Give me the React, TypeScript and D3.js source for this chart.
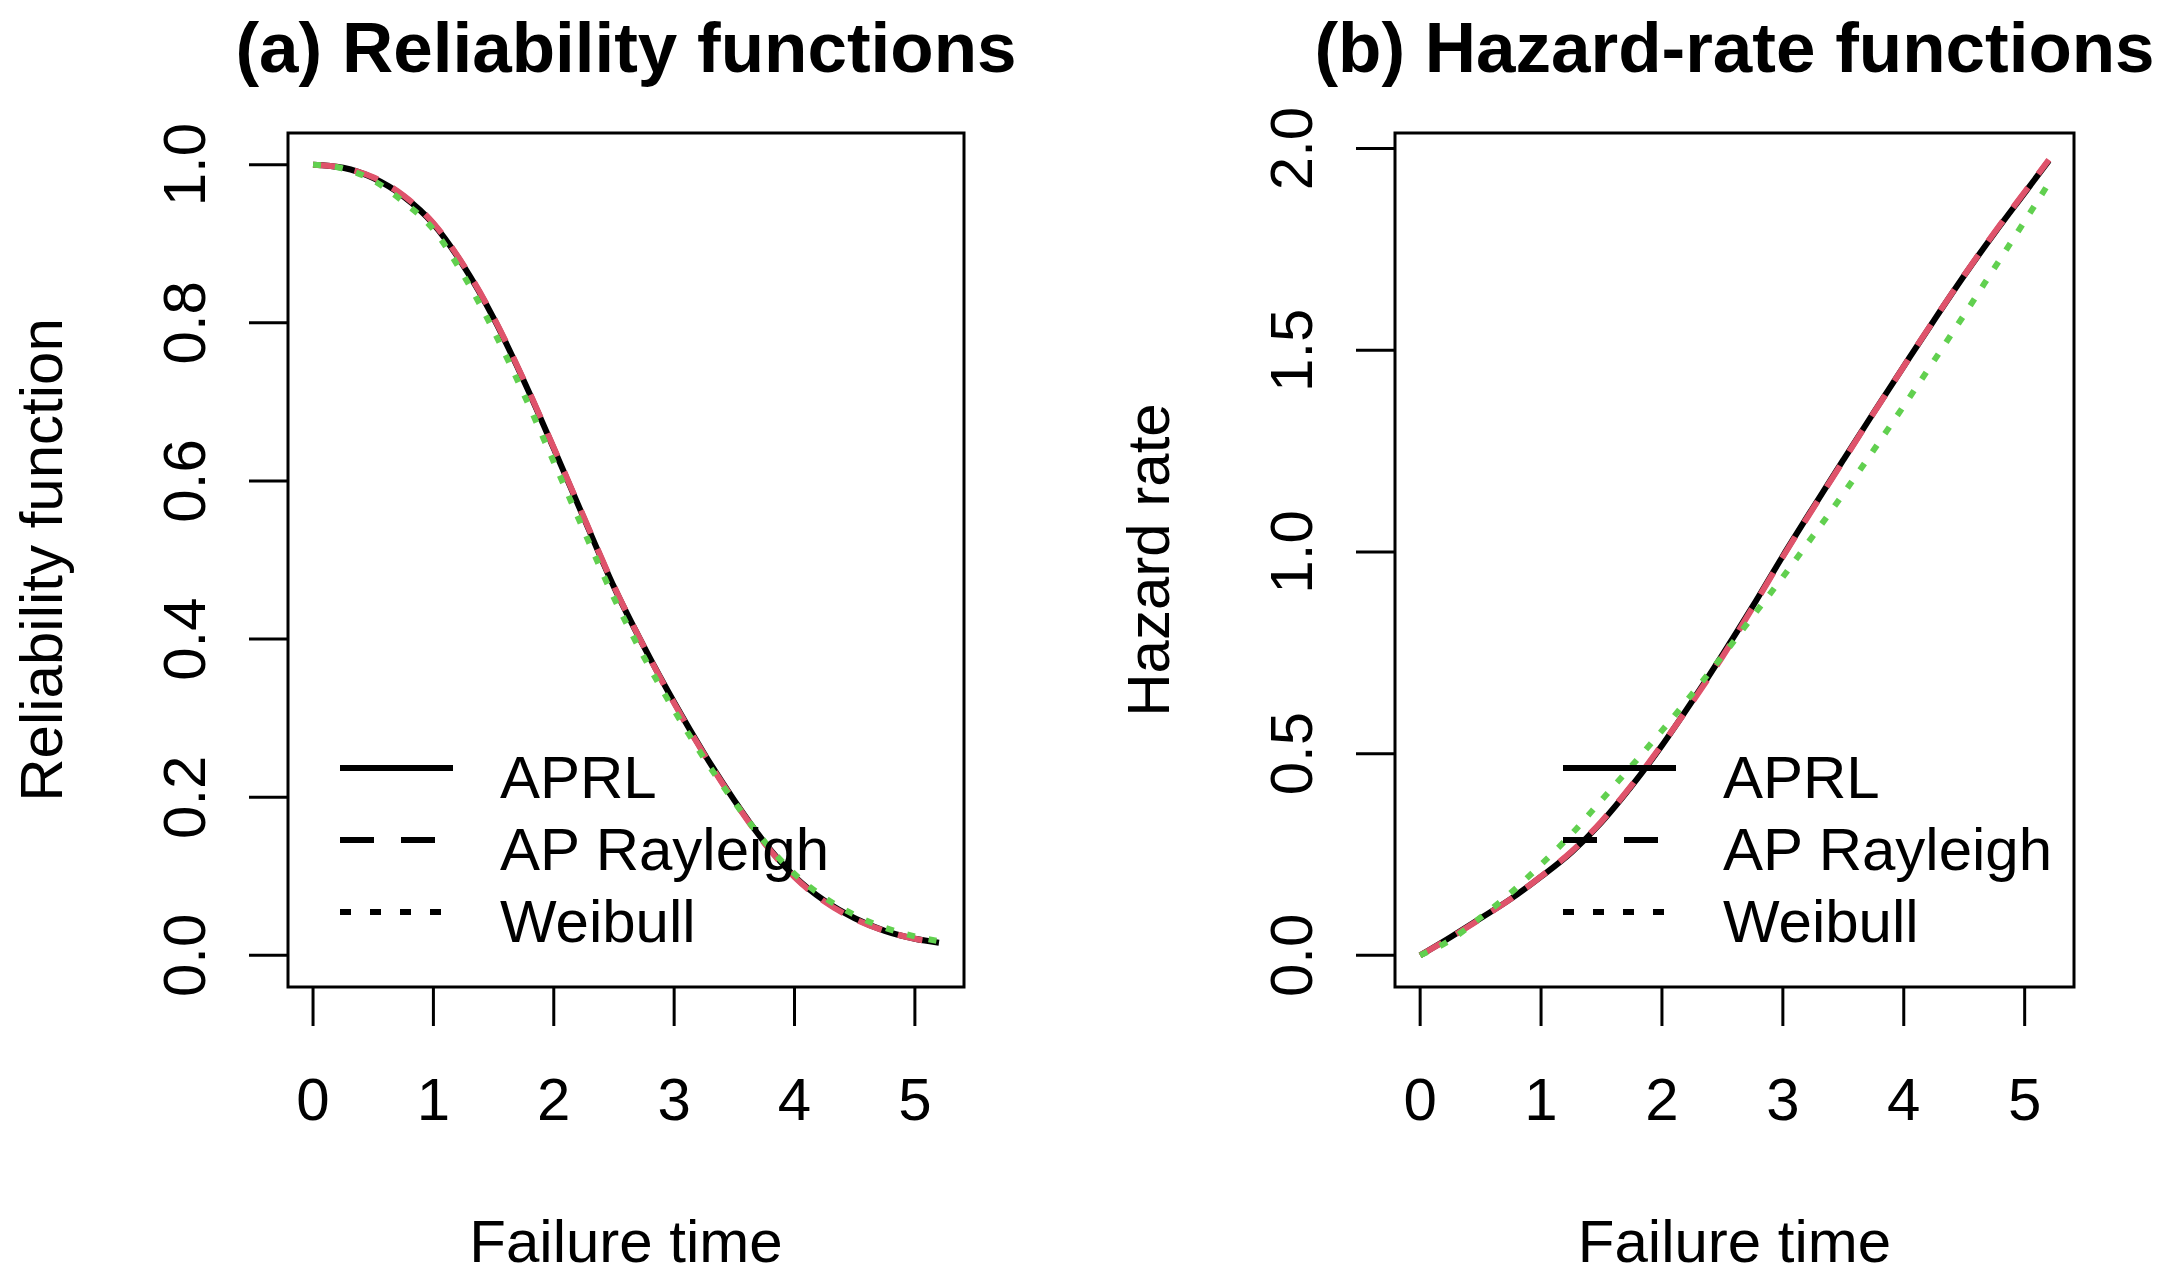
import { useEffect, useRef } from 'react';
import * as d3 from 'd3';

// Values
const failureTime = [0, 0.25, 0.5, 0.75, 1, 1.25, 1.5, 1.75, 2, 2.25, 2.5, 2.75, 3, 3.25, 3.5, 3.75, 4, 4.25, 4.5, 4.75, 5, 5.2];

const reliabilityAPRL = [1.0, 0.996, 0.983, 0.96, 0.925, 0.872, 0.806, 0.727, 0.641, 0.553, 0.466, 0.39, 0.32, 0.255, 0.196, 0.143, 0.1, 0.069, 0.047, 0.031, 0.021, 0.016];
const reliabilityAPRayleigh = [1.0, 0.996, 0.984, 0.961, 0.926, 0.873, 0.807, 0.728, 0.642, 0.554, 0.467, 0.39, 0.319, 0.254, 0.195, 0.142, 0.099, 0.068, 0.046, 0.031, 0.021, 0.016];
const reliabilityWeibull = [1.0, 0.995, 0.98, 0.953, 0.918, 0.86, 0.79, 0.71, 0.624, 0.537, 0.452, 0.377, 0.31, 0.249, 0.194, 0.144, 0.103, 0.073, 0.051, 0.035, 0.024, 0.018];

const hazardAPRL = [0.0, 0.045, 0.092, 0.14, 0.195, 0.255, 0.33, 0.42, 0.52, 0.63, 0.745, 0.865, 0.99, 1.11, 1.228, 1.345, 1.46, 1.574, 1.685, 1.79, 1.89, 1.97];
const hazardAPRayleigh = [0.0, 0.044, 0.091, 0.14, 0.196, 0.257, 0.332, 0.422, 0.522, 0.628, 0.74, 0.862, 0.988, 1.108, 1.226, 1.344, 1.46, 1.575, 1.686, 1.792, 1.892, 1.972];
const hazardWeibull = [0.0, 0.038, 0.094, 0.155, 0.225, 0.3, 0.385, 0.47, 0.557, 0.648, 0.742, 0.84, 0.938, 1.04, 1.144, 1.252, 1.362, 1.474, 1.588, 1.704, 1.82, 1.914];

const xTicks = [0, 1, 2, 3, 4, 5];
const reliabilityTicks = [0, 0.2, 0.4, 0.6, 0.8, 1.0];
const hazardTicks = [0, 0.5, 1.0, 1.5, 2.0];
const legendLabels = ['APRL', 'AP Rayleigh', 'Weibull'];

const FONT = "'Liberation Sans', Arial, sans-serif";
const RED = '#DF536B';
const GREEN = '#61D04F';

interface PanelSpec {
  title: string;
  yLabel: string;
  left: number;
  right: number;
  yMax: number;
  yTicks: number[];
  series: number[][];
  legendX: number;
}

const App = () => {
  const svgRef = useRef<SVGSVGElement | null>(null);

  useEffect(() => {
    const svg = d3.select(svgRef.current);
    svg.selectAll('*').remove();

    const width = 2166;
    const height = 1277;
    svg.attr('width', width).attr('height', height);

    const top = 133;
    const bottom = 987;

    const panels: PanelSpec[] = [
      {
        title: '(a) Reliability functions',
        yLabel: 'Reliability function',
        left: 288,
        right: 964,
        yMax: 1,
        yTicks: reliabilityTicks,
        series: [reliabilityAPRL, reliabilityAPRayleigh, reliabilityWeibull],
        legendX: 340,
      },
      {
        title: '(b) Hazard-rate functions',
        yLabel: 'Hazard rate',
        left: 1395,
        right: 2074,
        yMax: 1.96,
        yTicks: hazardTicks,
        series: [hazardAPRL, hazardAPRayleigh, hazardWeibull],
        legendX: 1563,
      },
    ];

    // stroke styles for APRL, AP Rayleigh, Weibull
    const curveStyles = [
      { color: 'black', dash: null as string | null },
      { color: RED, dash: '25 17' },
      { color: GREEN, dash: '8 14' },
    ];
    const legendDash = [null, '34 27', '11 19'];

    panels.forEach(p => {
      // R style: 4% padding on both axes
      const xPad = 5.2 * 0.04;
      const x = d3.scaleLinear()
        .domain([-xPad, 5.2 + xPad])
        .range([p.left, p.right]);

      const yPad = p.yMax * 0.04;
      const y = d3.scaleLinear()
        .domain([-yPad, p.yMax + yPad])
        .range([bottom, top]);

      const g = svg.append('g');

      // Curves
      const line = d3.line<number>()
        .x((_, i) => x(failureTime[i]))
        .y(d => y(d))
        .curve(d3.curveMonotoneX);

      p.series.forEach((values, i) => {
        const path = g.append('path')
          .datum(values)
          .attr('d', line)
          .attr('fill', 'none')
          .attr('stroke', curveStyles[i].color)
          .attr('stroke-width', 6);
        if (curveStyles[i].dash) path.attr('stroke-dasharray', curveStyles[i].dash);
      });

      // Box
      g.append('rect')
        .attr('x', p.left)
        .attr('y', top)
        .attr('width', p.right - p.left)
        .attr('height', bottom - top)
        .attr('fill', 'none')
        .attr('stroke', 'black')
        .attr('stroke-width', 3);

      // x axis ticks and labels
      g.selectAll('.xtick')
        .data(xTicks)
        .enter()
        .append('line')
        .attr('x1', d => x(d))
        .attr('x2', d => x(d))
        .attr('y1', bottom)
        .attr('y2', bottom + 39)
        .attr('stroke', 'black')
        .attr('stroke-width', 3);

      g.selectAll('.xlabel')
        .data(xTicks)
        .enter()
        .append('text')
        .attr('x', d => x(d))
        .attr('y', 1120)
        .attr('text-anchor', 'middle')
        .attr('font-family', FONT)
        .attr('font-size', 60)
        .text(d => d3.format('d')(d));

      // y axis ticks and rotated labels
      g.selectAll('.ytick')
        .data(p.yTicks)
        .enter()
        .append('line')
        .attr('x1', p.left - 39)
        .attr('x2', p.left)
        .attr('y1', d => y(d))
        .attr('y2', d => y(d))
        .attr('stroke', 'black')
        .attr('stroke-width', 3);

      g.selectAll('.ylabel')
        .data(p.yTicks)
        .enter()
        .append('text')
        .attr('transform', d => `translate(${p.left - 83},${y(d)}) rotate(-90)`)
        .attr('text-anchor', 'middle')
        .attr('font-family', FONT)
        .attr('font-size', 60)
        .text(d => d3.format('.1f')(d));

      // Titles
      const cx = (p.left + p.right) / 2;
      g.append('text')
        .attr('x', cx)
        .attr('y', 72)
        .attr('text-anchor', 'middle')
        .attr('font-family', FONT)
        .attr('font-weight', 'bold')
        .attr('font-size', 71)
        .text(p.title);

      g.append('text')
        .attr('x', cx)
        .attr('y', 1262)
        .attr('text-anchor', 'middle')
        .attr('font-family', FONT)
        .attr('font-size', 60)
        .text('Failure time');

      g.append('text')
        .attr('transform', `translate(${p.left - 226},${(top + bottom) / 2}) rotate(-90)`)
        .attr('text-anchor', 'middle')
        .attr('font-family', FONT)
        .attr('font-size', 60)
        .text(p.yLabel);

      // Legend (no box, black lines)
      legendLabels.forEach((label, i) => {
        const ly = 768 + i * 72;
        const seg = g.append('line')
          .attr('x1', p.legendX)
          .attr('x2', p.legendX + 113)
          .attr('y1', ly)
          .attr('y2', ly)
          .attr('stroke', 'black')
          .attr('stroke-width', 6);
        if (legendDash[i]) seg.attr('stroke-dasharray', legendDash[i]);

        g.append('text')
          .attr('x', p.legendX + 160)
          .attr('y', ly + 30)
          .attr('font-family', FONT)
          .attr('font-size', 60)
          .text(label);
      });
    });
  }, []);

  return <svg ref={svgRef} style={{ position: 'absolute', left: 0, top: 0, background: 'white' }}></svg>;
};

export default App;
